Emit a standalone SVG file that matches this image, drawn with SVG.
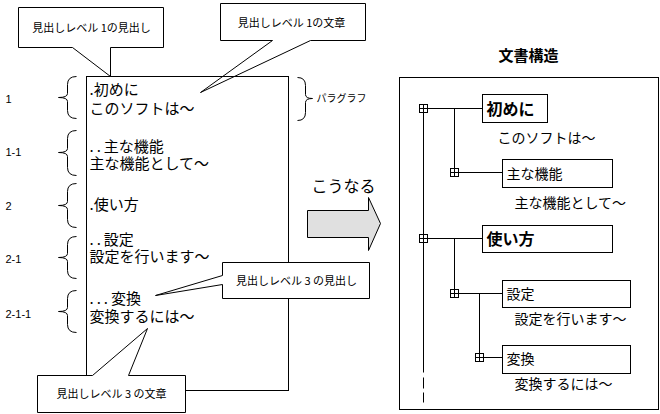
<svg xmlns="http://www.w3.org/2000/svg" width="660" height="414" viewBox="0 0 660 414">
<style>
text{font-family:"Noto Sans CJK JP","Liberation Sans",sans-serif;fill:#000}
.ln{fill:none;stroke:#000;stroke-width:1}
.co{fill:#fff;stroke:#000;stroke-width:1}
.doc{font-size:15px}
.num{font-size:11px;font-family:"Liberation Sans",sans-serif}
.cl{font-size:11px}
.tr{font-size:14px}
.b{font-weight:bold;font-size:15px}
</style>
<defs>
<g id="plus"><rect x="-4" y="-4" width="8" height="8" fill="#fff" stroke="#000"/><path d="M-4 0H4M0 -4V4" stroke="#000"/></g>
</defs>
<rect width="660" height="414" fill="#fff"/>
<g transform="translate(0.5,0.5)">
<g id="callout-l1-body">
<polygon class="co" points="220,3 365,3 365,40 310,40 200,92 272,40 220,40"/>
<text class="cl" x="291" y="26" text-anchor="middle">見出しレベル 1の文章</text>
</g>
<g id="document">
<rect class="ln" x="86" y="76" width="202" height="314"/>
<text class="doc" x="89" y="94">.初めに</text>
<text class="doc" x="89" y="113">このソフトは〜</text>
<text class="doc" x="89" y="151"><tspan letter-spacing="3">..</tspan>主な機能</text>
<text class="doc" x="89" y="168">主な機能として〜</text>
<text class="doc" x="89" y="209">.使い方</text>
<text class="doc" x="89" y="244"><tspan letter-spacing="3">..</tspan>設定</text>
<text class="doc" x="89" y="261">設定を行います〜</text>
<text class="doc" x="89" y="303"><tspan letter-spacing="3">...</tspan>変換</text>
<text class="doc" x="89" y="321">変換するには〜</text>
</g>
<g id="braces">
<path class="ln" d="M76 76Q67 76 67 84V93Q67 97 58 97Q67 97 67 101V110Q67 118 76 118"/>
<path class="ln" d="M76 130Q67 130 67 138V148Q67 152 58 152Q67 152 67 156V167Q67 175 76 175"/>
<path class="ln" d="M76 183Q67 183 67 191V201Q67 205 58 205Q67 205 67 209V219Q67 227 76 227"/>
<path class="ln" d="M76 236Q67 236 67 244V253Q67 257 58 257Q67 257 67 261V270Q67 278 76 278"/>
<path class="ln" d="M76 290Q67 290 67 298V307Q67 311 58 311Q67 311 67 315V324Q67 332 76 332"/>
<path class="ln" d="M297 77Q305 77 305 85V94Q305 98 312 98Q305 98 305 102V112Q305 120 297 120"/>
<text class="num" x="5" y="102">1</text>
<text class="num" x="5" y="155">1-1</text>
<text class="num" x="5" y="209">2</text>
<text class="num" x="5" y="262">2-1</text>
<text class="num" x="5" y="317">2-1-1</text>
<text style="font-size:10px" x="316" y="101">パラグラフ</text>
</g>
<g id="callout-l1-head">
<polygon class="co" points="18,7 163,7 163,47 110,47 110,76 72,47 18,47"/>
<text class="cl" x="91" y="31" text-anchor="middle">見出しレベル 1の見出し</text>
</g>
<g id="callout-l3-head">
<polygon class="co" points="222,262 369,262 369,298 222,298 222,284 155,295 222,275"/>
<text class="cl" x="296" y="284" text-anchor="middle">見出しレベル 3 の見出し</text>
</g>
<g id="callout-l3-body">
<polygon class="co" points="37,375 92,375 147,328 128,375 185,375 185,412 37,412"/>
<text class="cl" x="111" y="397" text-anchor="middle">見出しレベル 3 の文章</text>
</g>
<g id="arrow">
<polygon points="307,210 368,210 368,197 380,223 368,250 368,237 307,237" fill="#e0e0e0" stroke="#000"/>
<text x="343" y="191" text-anchor="middle" style="font-size:16px">こうなる</text>
</g>
<g id="structure">
<text class="b" x="528" y="60" text-anchor="middle">文書構造</text>
<rect class="ln" x="399" y="77" width="259" height="332"/>
</g>
<g id="connectors">
<path class="ln" d="M423 108V372M423 377V388M423 392V402"/>
<path class="ln" d="M423 108H482M454 108V172H502M423 238H482M454 238V293H502M479 293V357H502"/>
</g>
<g id="node-hajimeni">
<rect class="ln" x="482" y="94" width="65" height="28"/>
<text class="b" x="486" y="114" style="font-size:16px">初めに</text>
<text class="tr" x="497" y="142">このソフトは〜</text>
</g>
<g id="node-omona">
<rect class="ln" x="502" y="159" width="110" height="28"/>
<text class="tr" x="506" y="178">主な機能</text>
<text class="tr" x="514" y="207">主な機能として〜</text>
</g>
<g id="node-tsukaikata">
<rect class="ln" x="482" y="225" width="130" height="27"/>
<text class="b" x="486" y="244" style="font-size:16px">使い方</text>
</g>
<g id="node-settei">
<rect class="ln" x="502" y="280" width="128" height="27"/>
<text class="tr" x="506" y="298">設定</text>
<text class="tr" x="514" y="323">設定を行います〜</text>
</g>
<g id="node-henkan">
<rect class="ln" x="502" y="345" width="128" height="28"/>
<text class="tr" x="506" y="363">変換</text>
<text class="tr" x="514" y="388">変換するには〜</text>
</g>
<g id="expanders">
<use href="#plus" x="423" y="108"/>
<use href="#plus" x="454" y="172"/>
<use href="#plus" x="423" y="238"/>
<use href="#plus" x="454" y="293"/>
<use href="#plus" x="479" y="357"/>
</g>
</g>
</svg>
